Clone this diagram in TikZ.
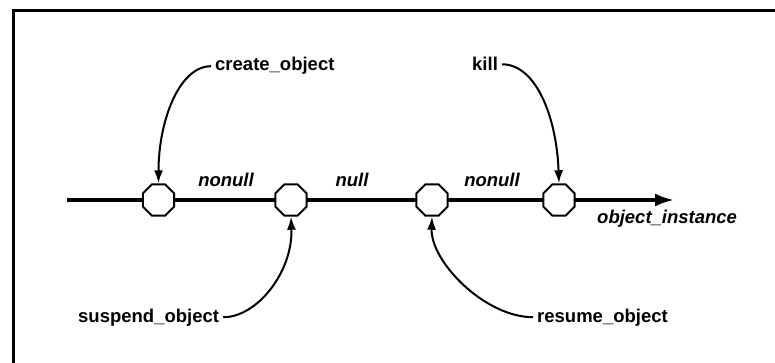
\documentclass[tikz,border=0pt]{standalone}
\usepackage{fontspec}
\setmainfont{Liberation Sans}
\usetikzlibrary{shapes.geometric,arrows.meta}
\begin{document}
\begin{tikzpicture}[x=1pt,y=-1pt,
  lbl/.style={font=\fontsize{18.5}{22}\selectfont\bfseries, inner sep=4pt},
  seg/.style={font=\fontsize{18.5}{22}\selectfont\bfseries\itshape, inner sep=0pt},
  octa/.style={regular polygon, regular polygon sides=8, minimum size=34pt, inner sep=0pt, draw, line width=2pt, fill=white},
  ev/.style={line width=2pt, -{Latex[length=13pt,width=9pt]}},
  mainline/.style={line width=3.2pt, -{Latex[length=19pt,width=13pt]}},
  frame/.style={line width=3pt}]
\useasboundingbox (0,0) rectangle (775,363);
% frame
\coordinate (f1) at (775,11);
\coordinate (f2) at (13,11);
\coordinate (f3) at (13,363);
\draw[frame] (f1) -- (f2) -- (f3);
% main line
\coordinate (ls) at (67,200);
\coordinate (le) at (674,200);
\draw[mainline] (ls) -- (le);
% octagons
\node[octa] (o1) at (158.5,200) {};
\node[octa] (o2) at (291,200) {};
\node[octa] (o3) at (432,200) {};
\node[octa] (o4) at (559,200) {};
% segment labels
\node[seg, anchor=base] (s1) at (226,187) {nonull};
\node[seg, anchor=base] (s2) at (352,187) {null};
\node[seg, anchor=base] (s3) at (492,186) {nonull};
\node[seg, anchor=base west] (oi) at (597,223) {object\_instance};
% event labels
\node[lbl, anchor=base west] (create) at (211,71) {create\_object};
\node[lbl, anchor=base west] (kill) at (468,71) {kill};
\node[lbl, anchor=base west] (susp) at (74,322) {suspend\_object};
\node[lbl, anchor=base west] (resume) at (533,322) {resume\_object};
% event connectors
\draw[ev] (create.west) to[out=180,in=90,out distance=32pt,in distance=62pt] (o1.north);
\draw[ev] (kill.east) to[out=0,in=92,out distance=34pt,in distance=66pt] (o4.north);
\draw[ev] (susp.east) to[out=0,in=-88,out distance=34pt,in distance=55pt] (o2.south);
\draw[ev] (resume.west) to[out=180,in=-92,out distance=48pt,in distance=45pt] (o3.south);
\end{tikzpicture}
\end{document}
